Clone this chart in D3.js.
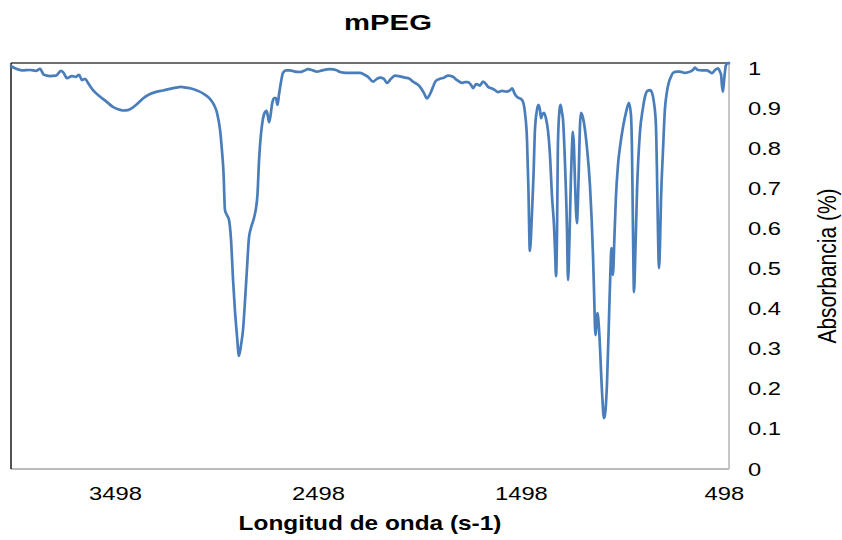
<!DOCTYPE html>
<html>
<head>
<meta charset="utf-8">
<script src="https://cdn.jsdelivr.net/npm/d3@7"></script>
<style>
  html, body { margin: 0; padding: 0; background: #ffffff; }
  svg { display: block; }
  text { font-family: "Liberation Sans", Arial, sans-serif; fill: #000; }
</style>
</head>
<body>
<svg id="chart" width="842" height="540"></svg>
<script>
// ---- Data (wavenumber, absorbance) ----
const wavenumber = [
  4010,3985,3956,3916,3887,3867,3848,3818,3788,3764,3754,3734,3710,3690,3675,3660,3645,3631,3606,3572,
  3537,3508,3483,3458,3434,3414,3389,3360,3325,3291,3261,3227,3197,3173,3148,3123,3089,3059,3030,3010,
  2995,2980,2971,2963,2956,2946,2936,2926,2916,2907,2897,2887,2877,2867,2857,2847,2838,2828,2813,2803,
  2796,2788,2779,2769,2759,2751,2744,2739,2732,2724,2714,2705,2697,2690,2680,2670,2655,2636,2611,2586,
  2567,2547,2522,2503,2478,2439,2409,2389,2360,2330,2291,2271,2251,2227,2207,2192,2173,2158,2138,2118,
  2094,2069,2049,2030,2010,1995,1976,1961,1946,1931,1917,1897,1877,1857,1833,1813,1788,1774,1759,1744,
  1734,1719,1710,1700,1685,1670,1660,1641,1626,1611,1591,1571,1552,1542,1527,1512,1498,1488,1478,1468,
  1461,1454,1444,1436,1429,1419,1412,1404,1399,1392,1384,1375,1365,1355,1345,1335,1330,1325,1320,1316,
  1308,1303,1296,1291,1281,1271,1266,1259,1252,1247,1242,1237,1232,1222,1217,1212,1207,1202,1192,1173,
  1158,1143,1138,1131,1121,1113,1099,1089,1084,1074,1064,1057,1052,1045,1037,1030,1020,1010,995,980,
  966,956,951,946,941,934,926,912,897,887,875,862,852,843,833,828,823,818,813,808,
  798,789,779,769,759,749,729,715,690,665,651,641,626,606,582,567,557,542,527,517,
  512,508,503,498,493,488,478,473
];
const absorbance = [
  1.005,0.998,0.994,0.995,0.993,0.998,0.983,0.980,0.981,0.993,0.990,0.975,0.980,0.978,0.983,0.970,0.973,0.963,0.945,0.929,
  0.915,0.903,0.897,0.894,0.895,0.900,0.910,0.924,0.935,0.941,0.944,0.948,0.951,0.953,0.951,0.949,0.943,0.935,0.923,0.908,
  0.888,0.845,0.796,0.738,0.646,0.633,0.621,0.571,0.471,0.397,0.334,0.282,0.309,0.347,0.421,0.504,0.576,0.601,0.626,0.651,
  0.683,0.771,0.833,0.873,0.890,0.893,0.878,0.865,0.880,0.910,0.925,0.925,0.908,0.933,0.965,0.988,0.994,0.994,0.991,0.990,
  0.993,0.997,0.994,0.991,0.994,0.997,0.995,0.990,0.988,0.988,0.988,0.984,0.978,0.966,0.973,0.976,0.973,0.963,0.973,0.981,
  0.979,0.976,0.974,0.966,0.960,0.953,0.938,0.924,0.935,0.953,0.968,0.973,0.976,0.981,0.978,0.970,0.963,0.965,0.965,0.958,
  0.950,0.960,0.959,0.956,0.966,0.960,0.953,0.949,0.945,0.940,0.943,0.941,0.944,0.949,0.934,0.926,0.923,0.916,0.888,0.820,
  0.696,0.544,0.633,0.733,0.845,0.895,0.908,0.895,0.875,0.885,0.888,0.875,0.845,0.783,0.681,0.606,0.546,0.481,0.596,0.805,
  0.895,0.908,0.890,0.873,0.763,0.596,0.471,0.571,0.721,0.796,0.841,0.808,0.721,0.613,0.671,0.763,0.858,0.888,0.875,0.803,
  0.708,0.534,0.446,0.334,0.389,0.347,0.197,0.127,0.135,0.214,0.379,0.496,0.551,0.484,0.584,0.678,0.758,0.803,0.853,0.890,
  0.913,0.883,0.796,0.596,0.441,0.546,0.696,0.838,0.900,0.928,0.943,0.945,0.938,0.915,0.858,0.746,0.596,0.501,0.559,0.671,
  0.796,0.895,0.940,0.965,0.978,0.988,0.991,0.991,0.988,0.991,0.995,1.001,0.995,0.994,0.994,0.990,0.987,0.995,0.999,0.990,
  0.983,0.958,0.941,0.965,0.990,1.007,1.012,1.012
];
const xTickValues = [3498, 2498, 1498, 498];
const yTickValues = [0, 0.1, 0.2, 0.3, 0.4, 0.5, 0.6, 0.7, 0.8, 0.9, 1];
const chartTitle = "mPEG";
const xTitle = "Longitud de onda (s-1)";
const yTitle = "Absorbancia (%)";

// ---- Layout ----
const plot = { left: 11, right: 729, top: 63, bottom: 469 };
const stretch = 1.25; // the reference text is drawn horizontally widened
const svg = d3.select("#chart");

const x = d3.scaleLinear().domain([4010, 473]).range([plot.left, plot.right]);
const y = d3.scaleLinear().domain([0, 1.0125]).range([plot.bottom, plot.top]);

const data = wavenumber.map((w, i) => ({ w, a: absorbance[i] }));

// frame
svg.append("line").attr("x1", plot.left).attr("x2", plot.right).attr("y1", plot.bottom).attr("y2", plot.bottom)
  .attr("stroke", "#a6a6a6").attr("stroke-width", 1.3);
svg.append("line").attr("x1", plot.right).attr("x2", plot.right).attr("y1", plot.top).attr("y2", plot.bottom)
  .attr("stroke", "#b4b4b4").attr("stroke-width", 1.5);
svg.append("line").attr("x1", plot.left).attr("x2", plot.right).attr("y1", plot.top).attr("y2", plot.top)
  .attr("stroke", "#404040").attr("stroke-width", 1.5);
svg.append("line").attr("x1", plot.left).attr("x2", plot.left).attr("y1", plot.top).attr("y2", plot.bottom)
  .attr("stroke", "#1a1a1a").attr("stroke-width", 1.5);

// line
const line = d3.line().x(d => x(d.w)).y(d => y(d.a)).curve(d3.curveMonotoneX);
svg.append("path").datum(data).attr("d", line)
  .attr("fill", "none").attr("stroke", "#4a7ebb").attr("stroke-width", 2.7)
  .attr("stroke-linejoin", "round").attr("stroke-linecap", "round");

// y axis (right, labels only)
const yAxis = d3.axisRight(y).tickValues(yTickValues).tickSize(0).tickPadding(0)
  .tickFormat(d => d3.format("~g")(d));
const gy = svg.append("g").attr("transform", `translate(748,0)`).call(yAxis);
gy.select(".domain").remove();
gy.selectAll("text").attr("font-size", 19).attr("font-family", "Liberation Sans, Arial, sans-serif")
  .attr("fill", "#000").attr("transform", `scale(${stretch},1)`);

// x axis (labels only)
const xAxis = d3.axisBottom(x).tickValues(xTickValues).tickSize(0).tickPadding(0).tickFormat(d3.format("d"));
const gx = svg.append("g").attr("transform", `translate(0,486)`).call(xAxis);
gx.select(".domain").remove();
gx.selectAll("text").attr("font-size", 19).attr("font-family", "Liberation Sans, Arial, sans-serif")
  .attr("fill", "#000").attr("transform", `scale(${stretch},1)`);

// titles
svg.append("text").attr("transform", `translate(388,30) scale(1.33,1)`).attr("text-anchor", "middle")
  .attr("font-size", 22).attr("font-weight", "bold").text(chartTitle);
svg.append("text").attr("transform", `translate(370,530) scale(1.22,1)`).attr("text-anchor", "middle")
  .attr("font-size", 20).attr("font-weight", "bold").text(xTitle);
svg.append("text").attr("transform", "translate(836,266) scale(1.2,1) rotate(-90)").attr("text-anchor", "middle")
  .attr("font-size", 21).text(yTitle);
</script>
</body>
</html>
